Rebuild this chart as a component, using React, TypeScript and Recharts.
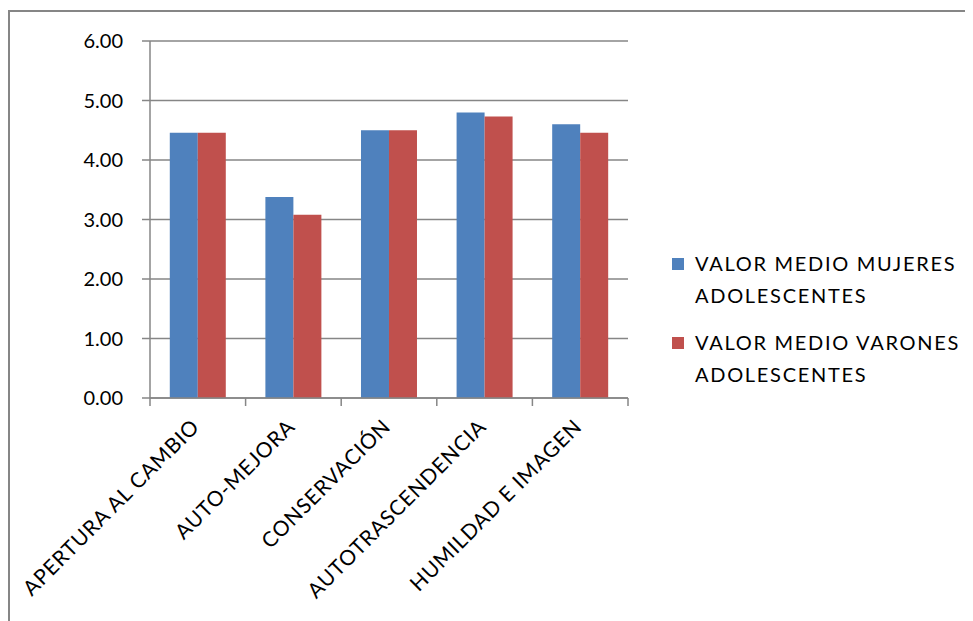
import { BarChart, Bar, XAxis, YAxis, CartesianGrid, Legend } from "recharts";

const categories = [
  "APERTURA AL CAMBIO",
  "AUTO-MEJORA",
  "CONSERVACIÓN",
  "AUTOTRASCENDENCIA",
  "HUMILDAD E IMAGEN",
];
const mujeres = [4.46, 3.38, 4.5, 4.8, 4.6];
const varones = [4.46, 3.08, 4.5, 4.73, 4.46];
const yTicks = [0, 1, 2, 3, 4, 5, 6];

const seriesNames = {
  mujeres: ["VALOR MEDIO MUJERES", "ADOLESCENTES"],
  varones: ["VALOR MEDIO VARONES", "ADOLESCENTES"],
};

const data = categories.map((name, i) => ({
  name,
  mujeres: mujeres[i],
  varones: varones[i],
}));

const W = 965;
const H = 613;
const margin = { top: 33, right: 345, left: 0, bottom: 0 };
const yAxisWidth = 142;
const plotWidth = W - margin.right - margin.left - yAxisWidth;
const halfBand = plotWidth / categories.length / 2;
const FONT = "Lato, 'Noto Sans', sans-serif";
const GRID = "#868686";

function CategoryTick(props: any) {
  const { x, y, payload, index } = props;
  const tx = x + 3;
  const ty = y + 30;
  return (
    <g>
      <line x1={x - halfBand} y1={y} x2={x - halfBand} y2={y + 8} stroke={GRID} strokeWidth={1.5} />
      {index === categories.length - 1 && (
        <line x1={x + halfBand} y1={y} x2={x + halfBand} y2={y + 8} stroke={GRID} strokeWidth={1.5} />
      )}
      <text
        x={tx}
        y={ty}
        textAnchor="end"
        transform={`rotate(-45, ${tx}, ${ty})`}
        fontSize={21}
        letterSpacing={0.8}
        fontFamily={FONT}
        fill="#000"
      >
        {payload.value}
      </text>
    </g>
  );
}

function LegendBox() {
  const items = [
    { color: "#4F81BD", lines: seriesNames.mujeres },
    { color: "#C0504D", lines: seriesNames.varones },
  ];
  return (
    <div style={{ fontFamily: FONT, fontSize: 20, color: "#000" }}>
      {items.map((it, i) => (
        <div key={i} style={{ position: "relative", height: 79, paddingLeft: 23 }}>
          <div
            style={{
              position: "absolute",
              left: 0,
              top: 11,
              width: 12,
              height: 12,
              background: it.color,
            }}
          />
          {it.lines.map((l, j) => (
            <div key={j} style={{ lineHeight: "32px", whiteSpace: "nowrap", letterSpacing: 1.7 }}>
              {l}
            </div>
          ))}
        </div>
      ))}
    </div>
  );
}

export default function App() {
  return (
    <div style={{ position: "relative", width: W, height: H }}>
      <div style={{ position: "absolute", left: 0, top: 2, width: W, height: 2, background: GRID }} />
      <div style={{ position: "absolute", left: 0, top: 2, width: 2, height: H, background: GRID }} />
      <BarChart
        width={W}
        height={H}
        data={data}
        margin={margin}
        barCategoryGap="20.7%"
        barGap={0}
      >
        <CartesianGrid horizontal vertical={false} stroke={GRID} strokeWidth={1.5} />
        <XAxis
          dataKey="name"
          height={223}
          interval={0}
          tickLine={false}
          tickSize={0}
          tickMargin={0}
          axisLine={{ stroke: GRID, strokeWidth: 1.5 }}
          tick={<CategoryTick />}
        />
        <YAxis
          width={yAxisWidth}
          domain={[0, 6]}
          ticks={yTicks}
          tickFormatter={(v: number) => v.toFixed(2)}
          tickSize={8}
          tickMargin={19}
          axisLine={{ stroke: GRID, strokeWidth: 1.5 }}
          tickLine={{ stroke: GRID, strokeWidth: 1.5 }}
          tick={{ fontSize: 20, fontFamily: FONT, fill: "#000" }}
        />
        <Legend
          layout="horizontal"
          verticalAlign="middle"
          align="center"
          content={<LegendBox />}
          wrapperStyle={{ position: "absolute", left: 664, top: 239, width: 300 }}
        />
        <Bar dataKey="mujeres" fill="#4F81BD" isAnimationActive={false} />
        <Bar dataKey="varones" fill="#C0504D" isAnimationActive={false} />
      </BarChart>
    </div>
  );
}
